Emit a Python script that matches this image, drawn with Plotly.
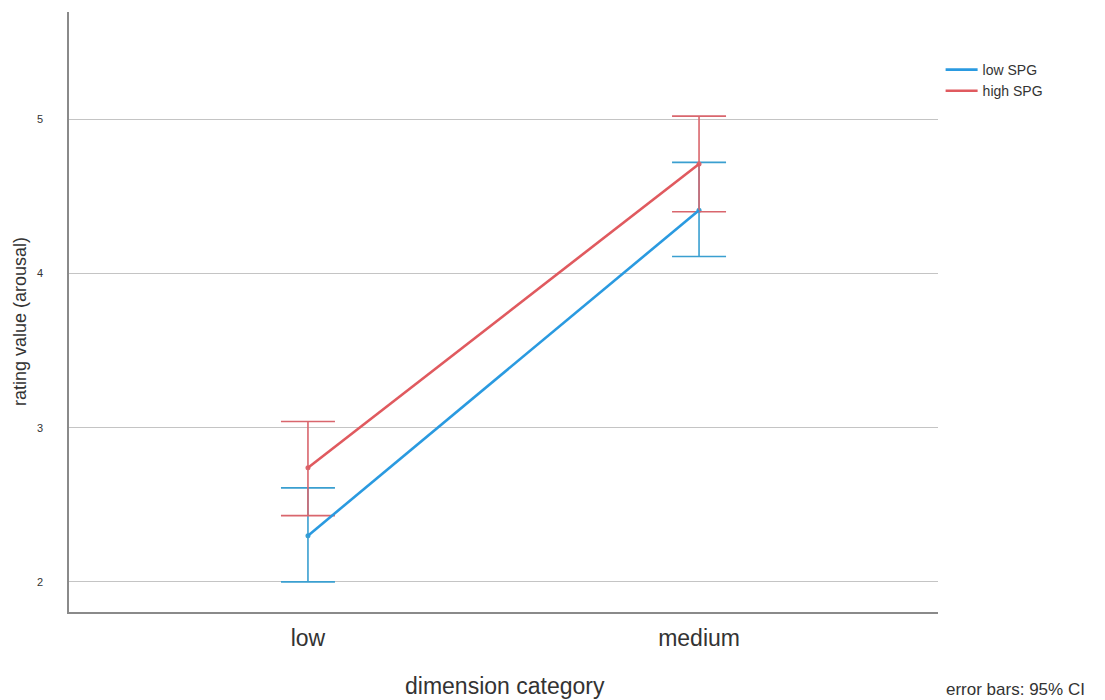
import plotly.graph_objects as go

# Mean ratings with 95% confidence intervals per dimension category
categories = ["low", "medium"]
groups = ["low SPG", "high SPG"]
means = {
    "low SPG": [2.30, 4.41],
    "high SPG": [2.74, 4.71],
}
ci_lower = {
    "low SPG": [2.00, 4.11],
    "high SPG": [2.43, 4.40],
}
ci_upper = {
    "low SPG": [2.61, 4.72],
    "high SPG": [3.04, 5.02],
}
y_ticks = [2, 3, 4, 5]

line_colors = {"low SPG": "#2a9ae0", "high SPG": "#e05a5f"}
bar_colors = {"low SPG": "#3a9fd0", "high SPG": "#d9666d"}

FONT = "Liberation Sans, Arial, sans-serif"
TEXT = "#333333"

# plot-area geometry in pixels, used to place free text
L, R, T, B = 69, 167, 12, 88
W, H = 1105, 700
PW, PH = W - L - R, H - T - B


def px_to_paper(px, py):
    return (px - L) / PW, (H - B - py) / PH


fig = go.Figure()
x_pos = list(range(len(categories)))

for g in groups:
    m = means[g]
    plus = [u - v for u, v in zip(ci_upper[g], m)]
    minus = [v - l for v, l in zip(m, ci_lower[g])]
    # error bars and point markers
    fig.add_trace(go.Scatter(
        x=x_pos, y=m, mode="markers", showlegend=False,
        marker=dict(size=5, color=bar_colors[g]),
        error_y=dict(type="data", array=plus, arrayminus=minus,
                     color=bar_colors[g], thickness=1.6, width=27),
        hoverinfo="skip",
    ))

for g in groups:
    fig.add_trace(go.Scatter(
        x=x_pos, y=means[g], mode="lines", name=g,
        line=dict(color=line_colors[g], width=2.6),
    ))

ytx, yty = px_to_paper(20, 322)
xtx, xty = px_to_paper(505, 686)
ftx, fty = px_to_paper(1087, 689)

fig.update_layout(
    width=W, height=H,
    margin=dict(l=L, r=R, t=T, b=B),
    paper_bgcolor="white", plot_bgcolor="white",
    font=dict(family=FONT, color=TEXT),
    legend=dict(x=1.003, y=0.93, xanchor="left", yanchor="top",
                font=dict(size=14, color=TEXT),
                bgcolor="rgba(0,0,0,0)", tracegroupgap=0,
                itemwidth=32),
    xaxis=dict(
        range=[-0.611, 1.611], tickvals=x_pos, ticktext=categories,
        showgrid=False, zeroline=False, automargin=False,
        showline=True, linecolor="#8a8a8a", linewidth=1.5,
        ticks="", ticklabelstandoff=5,
        tickfont=dict(size=23, color=TEXT),
    ),
    yaxis=dict(
        range=[1.805, 5.695], tickvals=y_ticks,
        showgrid=True, gridcolor="#c4c4c4", gridwidth=1.3,
        zeroline=False, automargin=False,
        showline=True, linecolor="#8a8a8a", linewidth=1.5,
        ticks="", ticklabelstandoff=22,
        tickfont=dict(size=11, color=TEXT),
    ),
    annotations=[
        dict(text="rating value (arousal)", xref="paper", yref="paper",
             x=ytx, y=yty, xanchor="center", yanchor="middle",
             textangle=-90, showarrow=False,
             font=dict(size=18, color=TEXT)),
        dict(text="dimension category", xref="paper", yref="paper",
             x=xtx, y=xty, xanchor="center", yanchor="middle",
             showarrow=False, font=dict(size=23, color=TEXT)),
        dict(text="error bars: 95% CI", xref="paper", yref="paper",
             x=ftx, y=fty, xanchor="right", yanchor="middle",
             showarrow=False, font=dict(size=17, color=TEXT)),
    ],
)

fig.write_html("out.html")
